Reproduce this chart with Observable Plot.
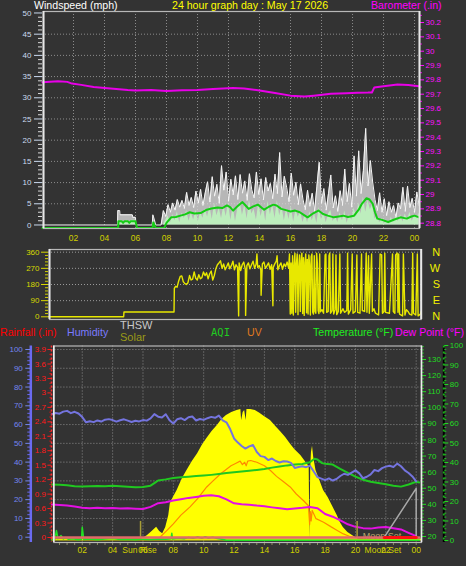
<!DOCTYPE html>
<html><head><meta charset="utf-8">
<script src="https://cdn.jsdelivr.net/npm/d3@7"></script>
<script src="https://cdn.jsdelivr.net/npm/@observablehq/plot@0.6"></script>
<style>
html,body{margin:0;padding:0;background:#333333;}
#root{position:relative;width:466px;height:566px;overflow:hidden;background:#333333;font-family:"Liberation Sans",Arial,sans-serif;}
.lbl{position:absolute;white-space:nowrap;line-height:1;}
</style></head><body><div id="root"></div>
<script>
// ---------------- tick labels ----------------
const hourTicks = [2,4,6,8,10,12,14,16,18,20,22,24];
const windTicks = [0,5,10,15,20,25,30,35,40,45,50];
const windGrid = [5,10,15,20,25,30,35,40,45];
const baroTicks = [28.8,28.9,29.0,29.1,29.2,29.3,29.4,29.5,29.6,29.7,29.8,29.9,30.0,30.1,30.2];
const dirTicks = [0,90,180,270,360];
const compassDeg = [360,270,180,90,0];
const compassLetters = ["N","W","S","E","N"];
const humTicks = [0,10,20,30,40,50,60,70,80,90,100];
const rainTicks = [0,0.3,0.6,0.9,1.2,1.5,1.8,2.1,2.4,2.7,3,3.3,3.6,3.9];
const tempTicks = [20,30,40,50,60,70,80,90,100,110,120,130];
const aqiTicks = [0,10,20,30,40,50,60,70,80,90,100];
const sunEventHours = [5.84, 20.11];
const bottomLabels = [{h:5.77, t:"Sun Rise"}, {h:21.8, t:"Moon Set"}];

// ---------------- barometer ----------------
const baroHours = [0,1.0,1.6,1.9,2.5,3.3,4.2,5.5,6.0,7.0,8.0,9.0,10.0,11.0,12.3,13.0,13.8,14.9,16.0,16.9,17.5,18.6,19.6,20.3,21.0,21.25,21.4,22.0,22.9,23.6,24.3];
const baroValues = [29.784,29.790,29.786,29.774,29.765,29.751,29.741,29.729,29.726,29.730,29.722,29.727,29.730,29.736,29.744,29.740,29.729,29.710,29.690,29.684,29.690,29.703,29.707,29.710,29.711,29.712,29.746,29.756,29.768,29.764,29.755];

// ---------------- wind ----------------
const gustEarlyHours = [0,4.84,4.86,4.98,5.0,5.8,5.82,6.0,6.02,7.08,7.12,7.22,7.3,7.65];
const gustEarlyValues = [0,0,3.4,3.4,2.4,2.4,1.8,1.8,0,0,2.4,1.2,0,0];
const windSampleStart = 7.8, windSampleStep = 0.15;
const gustValues = [
 3.4,2.0,4.8,3.0,5.2,
 3.5,6.0,4.2,5.8,3.9,7.7,4.6,
 6.5,4.1,8.0,5.2,8.4,4.6,7.6,
 10.2,5.4,11.4,6.8,9.6,5.1,14.0,
 8.2,12.5,5.6,10.8,7.1,11.6,6.0,
 11.9,7.5,10.4,5.8,12.1,8.3,6.4,
 12.5,7.2,10.9,5.9,11.2,8.0,9.8,
 6.2,12.0,7.4,17.1,6.6,11.5,8.9,
 5.5,12.2,7.0,10.1,4.8,9.7,6.1,
 3.6,8.2,4.4,7.5,3.2,9.0,14.8,
 5.1,8.6,3.5,7.4,11.8,4.0,6.9,
 3.2,8.1,4.6,13.2,5.5,9.8,4.2,
 16.3,6.8,17.5,7.4,12.8,22.8,9.2,
 15.2,10.1,6.0,3.4,7.6,3.0,6.2,
 2.2,5.5,3.0,4.6,1.8,5.2,3.8,
 8.9,3.2,9.2,4.1,6.3,3.0,7.8,4.5];
const speedEarlyHours = [0,4.86,4.88,5.0,5.1,5.3,5.45,5.6,5.75,6.0,6.05,7.1,7.13,7.25,7.65];
const speedEarlyValues = [0,0,1.1,0.6,1.1,0.5,1.1,0.4,1.1,1.1,0,0,1.0,0,0];
const speedValues = [
 0,1.1,2.2,0.4,2.5,
 1.0,3.1,0.6,2.8,1.5,3.4,0.9,
 2.9,1.2,3.5,0.8,3.0,1.6,3.8,
 1.9,4.5,1.3,5.1,2.2,4.0,1.5,
 4.6,2.0,5.2,1.1,4.4,0.8,3.9,
 5.5,2.3,4.8,1.4,5.9,2.6,3.7,
 1.2,5.0,2.0,4.3,0.9,5.6,2.4,
 4.9,1.5,5.8,2.2,4.5,1.0,3.8,
 1.3,4.4,0.7,3.6,1.8,3.2,0.6,
 2.4,0.5,3.1,1.0,2.7,0.4,4.2,
 1.2,3.0,0.5,2.6,3.4,0.8,2.1,
 0.6,2.8,1.0,3.3,0.4,2.5,1.1,
 4.0,1.8,5.2,2.6,6.6,3.0,5.8,
 3.6,4.8,1.4,2.2,0.5,1.6,0.3,
 1.1,0.2,1.8,0.6,2.0,0.8,2.4,
 0.7,2.6,1.2,3.0,0.9,2.2,1.5,2.8];
const avgHours = [0,4.88,4.9,5.1,5.2,5.3,5.5,5.6,5.7,6.0,6.1,7.1,7.15,7.3,7.85,8.0,8.3,8.6,8.9,9.2,9.5,9.8,10.2,10.6,10.9,11.3,11.6,11.9,12.1,12.3,12.6,12.9,13.1,13.3,13.6,13.9,14.1,14.3,14.6,14.9,15.1,15.4,15.7,16.0,16.3,16.6,16.85,17.1,17.4,17.8,18.1,18.4,18.8,19.1,19.4,19.7,20.1,20.4,20.6,20.9,21.1,21.3,21.45,21.6,21.9,22.3,22.7,23.1,23.5,23.8,24.0,24.3];
const avgValues = [-0.7,-0.7,0.9,0.9,0.5,0.9,0.9,0.5,0.9,0.9,-0.7,-0.7,0.6,-0.7,-0.7,0.5,1.8,1.9,2.2,2.5,3.0,2.7,2.8,3.6,3.9,4.1,4.0,4.6,4.2,3.4,4.5,5.4,4.6,3.8,4.4,4.8,4.2,3.6,4.3,4.8,4.6,3.8,3.5,3.2,3.4,3.0,2.4,1.8,2.6,3.4,2.6,2.2,1.8,2.0,2.2,1.9,2.2,3.6,5.0,6.3,6.0,5.0,3.0,1.5,1.2,0.7,1.3,1.8,1.5,2.0,2.2,1.8];

// ---------------- wind direction ----------------
const dirEarlyHours = [0,4.85,4.87,8.1,8.12];
const dirEarlyValues = [0,0,27,27,158];
const dirMidStart = 8.2, dirMidStep = 0.1;
const dirMidValues = [170,165,200,225,228,195,185,180,
 190,230,205,210,250,215,205,235,212,218,
 250,230,245,212,240,255,205,230,268,290,
 300,312,270,295,262,280,300,268,285,310,
 262,290,275,300,258,290,305,265,285,300,
 268,290,310,270,295,275,285,262,295,305,
 270,285,300,265,290,275,295,310,262,285,
 300,265,295,280,305,270];
const dirSpikeHours = [12.27,12.72,13.45,13.72,14.48,14.75];
const dirSpikeValues = [5,8,350,120,62,340];
const dirLateHours = [15.55,15.6,15.65,15.7,15.75,15.8,15.85,15.9,15.95,16.0,16.05,16.1,16.15,16.2,16.25,16.3,16.35,16.4,16.45,16.5,16.55,16.6,16.65,16.7,16.75,16.8,16.85,16.9,16.95,17.0,17.05,17.1,17.15,17.2,17.25,17.3,17.35,17.4,17.45,17.5,17.55,17.65,17.75,17.85,17.9,17.95,18.05,18.1,18.15,18.2,18.3,18.35,18.4,18.5,18.55,18.6,18.7,18.8,18.85,19.0,19.1,19.25,19.3,19.35,19.5,19.6,19.65,19.8,19.9,19.95,20.1,20.2,20.25,20.4,20.5,20.55,20.65,20.7,20.85,20.9,21.0,21.1,21.3,21.4,21.5,21.55,21.65,21.7,21.75,22.0,22.2,22.25,22.35,22.4,22.5,22.55,22.6,22.65,22.85,22.9,23.0,23.1,23.2,23.3,23.45,23.5,23.55,23.7,23.8,23.85,24.0,24.05];
const dirLateValues = [350,15,300,20,340,10,290,355,25,300,350,12,280,345,30,310,355,18,330,8,300,350,22,320,15,345,290,10,335,350,25,15,340,30,20,355,300,35,18,350,28,40,20,345,350,25,30,340,355,20,35,350,15,40,345,12,30,350,20,45,25,35,355,15,40,350,20,30,345,25,20,350,35,30,355,25,340,20,350,30,45,20,10,350,345,20,30,355,25,20,350,30,20,345,355,25,350,15,5,350,10,40,30,15,10,355,20,10,350,5,15,30];

// ---------------- bottom panel ----------------
const humStart = 0, humStep = 0.25;
const humValues = [65.5,66.2,65.8,66.9,67.3,66.1,66.8,65.9,64.0,61.2,
 61.8,61.3,62.2,61.6,62.6,62.9,62.4,61.6,62.3,62.8,
 62.1,61.4,62.0,61.7,62.4,62.1,63.3,65.6,64.2,63.8,
 65.5,62.3,60.6,62.8,63.4,62.4,63.9,64.3,62.2,63.0,
 62.5,63.4,64.1,63.6,64.8,62.3,61.2,57.5,52.6,50.4,
 48.6,47.2,48.4,49.1,45.4,43.2,42.8,41.1,41.9,40.6,
 39.8,40.5,40.3,39.6,36.9,37.4,37.8,37.3,38.1,35.0,
 32.0,31.2,30.4,31.3,30.2,31.0,32.6,33.8,33.2,34.4,
 35.6,34.0,31.4,32.2,33.5,35.8,35.2,36.8,37.6,38.1,
 37.4,39.2,37.8,35.6,34.2,32.4,29.8];
const tempHours = [0,0.5,1,1.5,2,2.5,3,3.5,4,4.5,5,5.5,6,6.5,6.8,7,7.5,8,8.5,9,9.5,10,10.5,11,11.5,12,12.5,13,13.5,14,14.5,15,15.5,16,16.5,17,17.3,17.5,17.8,18,18.5,19,19.5,20,20.5,21,21.5,22,22.5,23,23.5,24,24.2];
const tempValues = [52.3,52.2,51.8,51.2,51.0,51.3,51.4,51.3,51.5,51.2,50.9,50.6,50.8,51.6,53.5,54.8,55.5,56.4,56.8,57.2,57.6,57.9,58.3,58.8,59.4,60.0,60.4,60.9,61.4,62.0,62.8,63.5,64.2,64.7,65.1,66.2,68.3,67.8,65.6,65.2,64.7,62.0,59.6,57.2,55.3,54.0,53.2,52.5,51.6,51.0,52.3,54.0,53.6];
const dewHours = [0,0.5,1,1.5,2,2.5,3,3.5,4,4.5,5,5.5,6,6.5,7,7.5,8,8.5,9,9.5,10,10.5,11,11.5,12,12.5,13,13.5,14,14.5,15,15.5,16,16.5,17,17.5,18,18.5,19,19.5,20,20.5,21,21.5,22,22.5,23,23.5,24];
const dewValues = [39.9,39.6,39.2,38.6,37.8,37.5,37.9,37.6,37.7,37.4,37.6,37.3,37.1,38.4,40.7,41.3,42.4,43.2,44.0,44.6,45.3,45.6,45.0,43.1,40.6,40.1,39.8,39.2,38.8,38.1,37.5,37.0,37.4,37.8,38.4,37.6,34.0,32.3,30.0,27.6,26.0,25.2,24.9,25.6,25.9,25.1,24.4,22.3,20.2];
const solarHours = [5.9,6.3,6.6,6.9,7.1,7.3,7.5,7.7,7.8,8.0,8.25,8.6,8.9,9.25,9.6,9.9,10.2,10.55,10.9,11.2,11.5,11.85,12.2,12.45,12.5,12.6,12.7,12.8,12.85,13.1,13.4,13.7,14.0,14.4,14.75,15.1,15.4,15.7,16.0,16.4,16.8,16.95,17.0,17.05,17.1,17.17,17.25,17.4,17.6,17.9,18.2,18.5,18.8,19.0,19.2,19.5,19.8,20.0,20.2];
const solarValues = [0,23,47,72,47,33,70,140,209,246,287,357,404,456,501,550,589,632,667,702,726,743,755,761,696,743,755,696,761,761,755,739,720,696,661,628,597,560,527,492,443,427,0,415,509,546,480,404,357,287,246,193,140,99,70,41,23,12,0];
const uvHours = [7.1,7.5,8.0,8.5,9.1,9.6,10.2,10.6,11.1,11.5,11.8,12.1,12.4,12.55,12.7,12.8,12.9,13.1,13.5,14.0,14.4,14.8,15.2,15.7,16.1,16.6,16.9,16.98,17.03,17.08,17.15,17.4,17.9,18.4,18.8,19.2,19.6,19.9];
const uvValues = [0,0.5,1.15,1.9,2.6,3.3,4.3,4.8,5.4,5.8,6.1,6.3,6.5,6.2,6.4,6.1,6.5,6.55,6.4,6.1,5.7,5.2,4.8,4.3,3.7,3.1,2.7,1.1,2.2,1.4,2.3,1.6,1.3,0.9,0.6,0.3,0.1,0];
const aqiHours = [0,0.2,0.3,0.4,0.6,0.75,0.9,1.1,1.4,1.7,1.95,2.0,2.1,2.5,3.0,3.5,4.0,4.5,5.0,5.5,6.0,6.5,7.0,7.5,7.85,7.9,7.95,8.3,8.7,9.0,9.3,9.6,9.9,10.1,10.3,10.6,10.9,11.2,11.5,24.2];
const aqiValues = [0.5,0.8,5.1,1.0,2.6,0.8,1.5,0.6,0.9,0.4,0.6,6.8,0.5,0.8,0.4,0.7,1.0,0.5,0.6,0.4,0.7,0.5,0.8,0.6,0.9,3.7,0.8,1.2,0.9,1.5,1.1,1.8,1.2,1.9,1.3,1.7,1.0,0.6,0.1,0.1];
const rainHours = [0, 24.2];
const rainValues = [0, 0];
const rainRedHours = [21.9, 24.0];
const rainRedValues = [0, 0];
const moonHours = [21.9, 24.0, 24.0];
const moonValues = [0, 26, 0];
const sunMarkerHeight = 8.4;

// ---------------- build ----------------
const pts = (hs, vs) => hs.map((h, i) => ({h, v: vs[i]}));
const seq = (start, step, vs) => vs.map((v, i) => ({h: +(start + i * step).toFixed(3), v}));
const baroData = pts(baroHours, baroValues);
const gustData = pts(gustEarlyHours, gustEarlyValues).concat(seq(windSampleStart, windSampleStep, gustValues));
const speedData = pts(speedEarlyHours, speedEarlyValues).concat(seq(windSampleStart, windSampleStep, speedValues));
const avgData = pts(avgHours, avgValues);
const dirData = pts(dirEarlyHours, dirEarlyValues)
  .concat(seq(dirMidStart, dirMidStep, dirMidValues))
  .concat(pts(dirSpikeHours, dirSpikeValues))
  .concat(pts(dirLateHours, dirLateValues))
  .sort((a, b) => a.h - b.h);
const humData = seq(humStart, humStep, humValues);
const tempData = pts(tempHours, tempValues);
const dewData = pts(dewHours, dewValues);
const solarData = pts(solarHours, solarValues);
const uvData = pts(uvHours, uvValues);
const aqiData = pts(aqiHours, aqiValues);
const rainData = pts(rainHours, rainValues);
const rainRedData = pts(rainRedHours, rainRedValues);
const moonData = pts(moonHours, moonValues);
const compassData = compassDeg.map((v, i) => ({v, t: compassLetters[i]}));

const root = document.getElementById("root");
const W = 466, H = 566;
const FONT = '"Liberation Sans", Arial, sans-serif';
const fmtHour = d => String(d % 24).padStart(2, "0");
const minorOf = (lo, hi, step, major) => d3.range(lo, hi + step / 2, step).map(v => +v.toFixed(3)).filter(v => !major.some(m => Math.abs(m - v) < 1e-6));

function layer(o) {
  const svg = Plot.plot({
    width: W, height: H,
    marginTop: o.top, marginBottom: H - o.bottom, marginLeft: o.left, marginRight: W - o.right,
    x: {domain: o.x || [0, 1], axis: null},
    y: {domain: o.y || [0, 1], axis: null},
    style: {background: "transparent", fontFamily: FONT, fontSize: "8px"},
    marks: o.marks
  });
  svg.style.position = "absolute"; svg.style.left = "0px"; svg.style.top = "0px";
  svg.style.overflow = "visible"; svg.style.maxWidth = "none";
  root.appendChild(svg);
}
const yAxis = (ticks, anchor, color, size, pad, fmt, fs) =>
  Plot.axisY(ticks, {anchor, color, tickSize: size, tickPadding: pad, tickFormat: fmt, fontSize: fs, label: null});
const yMinor = (ticks, anchor, color, size) =>
  Plot.axisY(ticks, {anchor, color, tickSize: size, tickFormat: () => "", label: null});
const dotted = (c) => ({stroke: c, strokeOpacity: 1, strokeDasharray: "1,2", strokeWidth: 1});
function frame(box, topC, sideC, sideW) {
  layer({...box, marks: [
    Plot.frame({stroke: topC, strokeWidth: 1.2}),
    Plot.ruleX([0], {stroke: sideC, strokeWidth: sideW}),
    Plot.ruleX([1], {stroke: sideC, strokeWidth: sideW})
  ]});
}

// ===== Panel 1: wind + barometer =====
const P1 = {top: 11, bottom: 228, left: 42, right: 419};
const P1x = [0, 24.32], windY = [-0.83, 50.35], baroY = [28.763, 30.277];
layer({...P1, x: P1x, y: windY, marks: [
  Plot.gridX(hourTicks, dotted("#8c8c8c")),
  Plot.gridY(windGrid, dotted("#8c8c8c")),
  Plot.areaY(gustData, {x: "h", y: "v", fill: "#dcdcdc", fillOpacity: 0.78}),
  Plot.line(gustData, {x: "h", y: "v", stroke: "#f6f6f6", strokeWidth: 1}),
  Plot.areaY(speedData, {x: "h", y: "v", fill: "#bdeebd"}),
  Plot.line(avgData, {x: "h", y: "v", stroke: "#14cc14", strokeWidth: 2}),
  yAxis(windTicks, "left", "#cbdaef", 8, 3, d => d, 8),
  yMinor(minorOf(0, 50, 1, windTicks), "left", "#d8d8d8", 4),
  Plot.text(hourTicks, {x: d => d, text: fmtHour, frameAnchor: "bottom", dy: 12, fill: "#d0d000", fontSize: 8.5})
]});
layer({...P1, x: P1x, y: baroY, marks: [
  Plot.line(baroData, {x: "h", y: "v", stroke: "#e800e8", strokeWidth: 2}),
  yAxis(baroTicks, "right", "#ff10ff", 4, 2, d => String(+d.toFixed(1)), 8),
  yMinor(minorOf(28.8, 30.25, 0.05, baroTicks), "right", "#e000e0", 2)
]});
frame({top: 11, bottom: 228, left: 43, right: 419}, "#b8b8b8", "#e8e8e8", 2);

// ===== Panel 2: wind direction =====
const P2 = {top: 249, bottom: 319, left: 48, right: 420.7};
layer({...P2, x: [0, 24.05], y: [-15, 375], marks: [
  Plot.gridY([90, 180, 270, 360], dotted("#9a9a9a")),
  Plot.line(dirData, {x: "h", y: "v", stroke: "#e8e800", strokeWidth: 1.4}),
  yAxis(dirTicks, "left", "#d8d800", 7, 2, d => d, 8),
  yMinor(minorOf(0, 360, 18, dirTicks), "left", "#d0d000", 3),
  Plot.text(compassData, {y: "v", text: "t", frameAnchor: "right", dx: 19, fill: "#f0f000", fontSize: 11})
]});
frame({top: 249, bottom: 319, left: 49, right: 420.7}, "#b8b8b8", "#e8e8e8", 2);

// ===== Panel 3 =====
const P3 = {top: 345.5, bottom: 542, left: 51.4, right: 421};
const P3x = [0, 24.35];
const humY = [-2.82, 101.86], rainY = [-0.104, 3.973], tempY = [16.27, 138.4],
      aqiY = [-1.03, 99.74], solarY = [-17.6, 1132.2], uvY = [-0.43, 16.3];
layer({...P3, x: P3x, y: humY, marks: [
  Plot.gridX(hourTicks, dotted("#8c8c8c")),
  Plot.gridY([10,20,30,40,50,60,70,80,90,100], dotted("#8c8c8c")),
  Plot.axisX(d3.range(0.5, 24.01, 0.5), {anchor: "bottom", tickSize: 3, tickFormat: () => "", color: "#8c8c60", label: null}),
  Plot.text(hourTicks, {x: d => d, text: fmtHour, frameAnchor: "bottom", dy: 10.5, fill: "#d0d000", fontSize: 8.5}),
  Plot.text(bottomLabels, {x: "h", text: "t", frameAnchor: "bottom", dy: 10.5, fill: "#d0d000", fontSize: 8.5})
]});
layer({...P3, x: P3x, y: solarY, marks: [
  Plot.areaY(solarData, {x: "h", y: "v", fill: "#ffff00"}),
  Plot.ruleY([0], {stroke: "#e8e800", strokeWidth: 2})
]});
layer({...P3, x: P3x, y: uvY, marks: [
  Plot.line(uvData, {x: "h", y: "v", stroke: "#ff8a00", strokeWidth: 1.2})
]});
layer({...P3, x: P3x, y: aqiY, marks: [
  Plot.line(aqiData, {x: "h", y: "v", stroke: "#22e022", strokeWidth: 1.5})
]});
layer({...P3, x: P3x, y: tempY, marks: [
  Plot.line(tempData, {x: "h", y: "v", stroke: "#20c820", strokeWidth: 2}),
  Plot.line(dewData, {x: "h", y: "v", stroke: "#e410e4", strokeWidth: 2}),
  yAxis(tempTicks, "right", "#22dd22", 4, 2, d => d, 8),
  yMinor(minorOf(20, 138, 2, tempTicks), "right", "#20c020", 2)
]});
layer({...P3, x: P3x, y: humY, marks: [
  Plot.text(["Moon Set"], {x: () => 21.75, y: () => 0.4, text: d => d, fill: "#bba66b", fontSize: 9}),
  Plot.line(humData, {x: "h", y: "v", stroke: "#7474de", strokeWidth: 2}),
  Plot.ruleX(sunEventHours, {x: d => d, y1: 0, y2: sunMarkerHeight, stroke: "#a89e38", strokeWidth: 1.5}),
  Plot.line(moonData, {x: "h", y: "v", stroke: "#a8a8a8", strokeWidth: 1.5})
]});
layer({...P3, x: P3x, y: rainY, marks: [
  Plot.line(rainData, {x: "h", y: "v", stroke: "#e06a6a", strokeWidth: 2.5}),
  Plot.line(rainRedData, {x: "h", y: "v", stroke: "#ff1010", strokeWidth: 3}),
  yAxis(rainTicks, "left", "#ff1a1a", 4, 2, d => String(d), 8),
  yMinor(minorOf(0, 3.95, 0.1, rainTicks), "left", "#e01010", 2)
]});
// humidity axis (offset to the left)
layer({top: P3.top, bottom: P3.bottom, left: 30.3, right: 400, y: humY, marks: [
  Plot.ruleX([0], {stroke: "#6a6af0", strokeWidth: 2.5}),
  yAxis(humTicks, "left", "#7486f0", 5, 3, d => d, 8),
  yMinor(minorOf(0, 100, 2, humTicks), "left", "#6a6af0", 3)
]});
// rain axis line
layer({top: P3.top, bottom: P3.bottom, left: 51, right: 400, marks: [
  Plot.ruleX([0], {stroke: "#ff3030", strokeWidth: 1.5, strokeDasharray: "2,2"})
]});
// second right axis
layer({top: P3.top, bottom: P3.bottom, left: 400, right: 443.3, y: aqiY, marks: [
  Plot.ruleX([1], {stroke: "#000000", strokeWidth: 2}),
  Plot.ruleX([1], {stroke: "#18b018", strokeWidth: 2, strokeDasharray: "2,4"}),
  yAxis(aqiTicks, "right", "#22dd22", 4, 2, d => d, 8),
  yMinor(minorOf(0, 100, 2, aqiTicks), "right", "#20c020", 2)
]});
frame({top: 345.5, bottom: 542, left: 53.3, right: 421}, "#b8b8b8", "#ececec", 1.6);

// ===== Text labels =====
function label(text, x, cy, color, fs, fam) {
  const d = document.createElement("div");
  d.className = "lbl"; d.textContent = text;
  d.style.left = x + "px"; d.style.top = (cy - 0.4885 * fs) + "px";
  d.style.color = color; d.style.fontSize = fs + "px";
  if (fam) d.style.fontFamily = fam;
  root.appendChild(d);
}
label("Windspeed (mph)", 34, 5.5, "#ffffff", 10.6);
label("24 hour graph day : May 17 2026", 172, 5.5, "#ffff00", 10.6);
label("Barometer (.in)", 371, 5.5, "#ff00ff", 10.6);
label("Rainfall (.in)", 0, 332.5, "#ff0000", 10.6);
label("Humidity", 67, 332.5, "#7b7bff", 10.6);
label("THSW", 120, 325, "#c8c8c8", 11);
label("Solar", 120, 337.5, "#9a9a18", 11);
label("AQI", 211, 332.5, "#20cc20", 10.5, '"DejaVu Sans Mono", monospace');
label("UV", 247, 332.5, "#e07a20", 10.6);
label("Temperature (°F)", 313, 332.5, "#20ee20", 10.6);
label("Dew Point (°F)", 395, 332.5, "#ff00ff", 10.6);
</script></body></html>
